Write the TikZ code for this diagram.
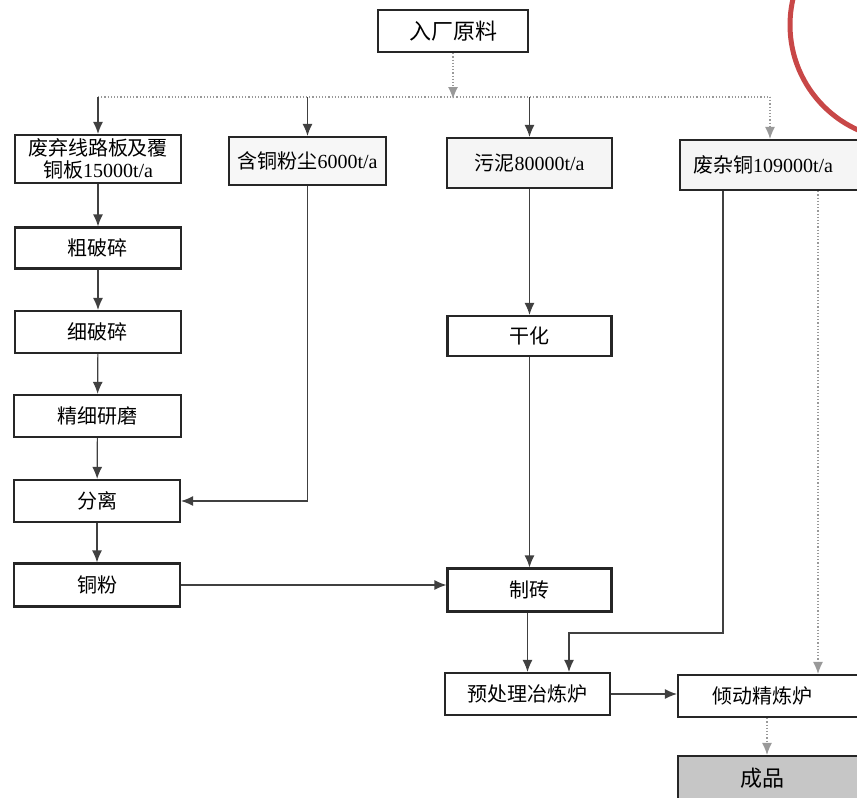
\documentclass[tikz,border=0pt]{standalone}
\usepackage{fontspec}
\setmainfont{Liberation Serif}
\newfontfamily\cjk{Noto Sans CJK SC}
\usetikzlibrary{arrows.meta,positioning}

\tikzset{
  box/.style={draw=black!85, line width=1.1pt, inner sep=1pt, align=center,
    font=\fontsize{10}{12}\selectfont},
  flow/.style={draw=black!75, line width=0.6pt, -{Latex[length=6pt,width=5pt]}},
  faint/.style={draw=black!40, line width=0.6pt, densely dotted},
}

\begin{document}
\begin{tikzpicture}[x=0.5pt,y=-0.5pt]
  \useasboundingbox (0,0) rectangle (857,798);
  \clip (0,0) rectangle (857,798);

  % stamp mark in the corner
  \draw[red!70!black!90, line width=2.5pt, opacity=0.8] (905,25) circle[radius=115];

  % raw materials
  \node[box, minimum width=75pt, minimum height=21pt] (top) at (453,31) {\cjk\fontsize{11}{13}\selectfont 入厂原料};
  \node[box, minimum width=83pt, minimum height=24pt] (b1) at (98,159)
    {{\cjk 废弃线路板及覆}\\[-1pt]{\cjk 铜板}15000t/a};
  \node[box, fill=gray!6, minimum width=78.5pt, minimum height=24pt] (b2) at (307.5,161) {{\cjk 含铜粉尘}6000t/a};
  \node[box, fill=gray!8, minimum width=82.5pt, minimum height=25pt] (b3) at (529.5,163) {{\cjk 污泥}80000t/a};
  \node[box, fill=gray!8, minimum width=91pt, minimum height=25pt] (b4) at (771,165) {{\cjk 废杂铜}109000t/a\hspace{8pt}};

  % left line
  \node[box, minimum width=83pt, minimum height=20.5pt] (c1) at (98,248) {\cjk 粗破碎};
  \node[box, minimum width=83pt, minimum height=21pt] (c2) at (98,332) {\cjk 细破碎};
  \node[box, minimum width=83.5pt, minimum height=21pt] (c3) at (97.5,416) {\cjk 精细研磨};
  \node[box, minimum width=83pt, minimum height=21pt] (sep) at (97,501) {\cjk 分离};
  \node[box, minimum width=83pt, minimum height=21.5pt] (cu) at (97,585) {\cjk 铜粉};

  % middle and right
  \node[box, minimum width=82pt, minimum height=20pt] (dry) at (529.5,336) {\cjk 干化};
  \node[box, minimum width=82pt, minimum height=21.5pt] (brick) at (529.5,590) {\cjk 制砖};
  \node[box, minimum width=82.5pt, minimum height=21pt] (pre) at (527.5,694) {\cjk 预处理冶炼炉};
  \node[box, minimum width=92pt, minimum height=21pt] (ref) at (770,696) {\cjk 倾动精炼炉\hspace{8pt}};
  \node[box, fill=gray!45, minimum width=92pt, minimum height=22pt] (prod) at (770,778)
    {\cjk\fontsize{11}{13}\selectfont 成品\hspace{8pt}};

  \coordinate (bl) at (98,97);
  \coordinate (br) at (770,97);
  \coordinate (k1) at (723,633);
  \coordinate (k2) at (569,633);
  \coordinate (k3) at (818,400);

  \draw[faint] (bl) -- (br);
  \draw[flow, faint] (top.south) -- ([yshift=-1pt]top.south |- bl);
  \draw[flow] (b1.north |- bl) -- (b1.north);
  \draw[flow] (b2.north |- bl) -- (b2.north);
  \draw[flow] (b3.north |- bl) -- (b3.north);
  \draw[flow, faint] (br) -- (b4.north -| br);

  \draw[flow] (b1) -- (c1);
  \draw[flow] (c1) -- (c2);
  \draw[flow] (c2) -- (c3);
  \draw[flow] (c3) -- (sep);
  \draw[flow] (sep) -- (cu);
  \draw[flow] (b2.south) |- (sep.east);
  \draw[flow] (cu.east) -- (cu.east -| brick.west);

  \draw[flow] (b3) -- (dry);
  \draw[flow] (dry) -- (brick);
  \draw[flow] (brick.south -| pre) -- (pre);
  \draw[flow] (b4.south -| k1) -- (k1) -- (k2) -- (pre.north -| k2);
  \draw[flow, faint] (b4.south -| k3) -- (ref.north -| k3);
  \draw[flow] (pre) -- (ref.west |- pre);
  \draw[flow, faint] (ref.south -| 767,0) -- (prod.north -| 767,0);
\end{tikzpicture}
\end{document}
